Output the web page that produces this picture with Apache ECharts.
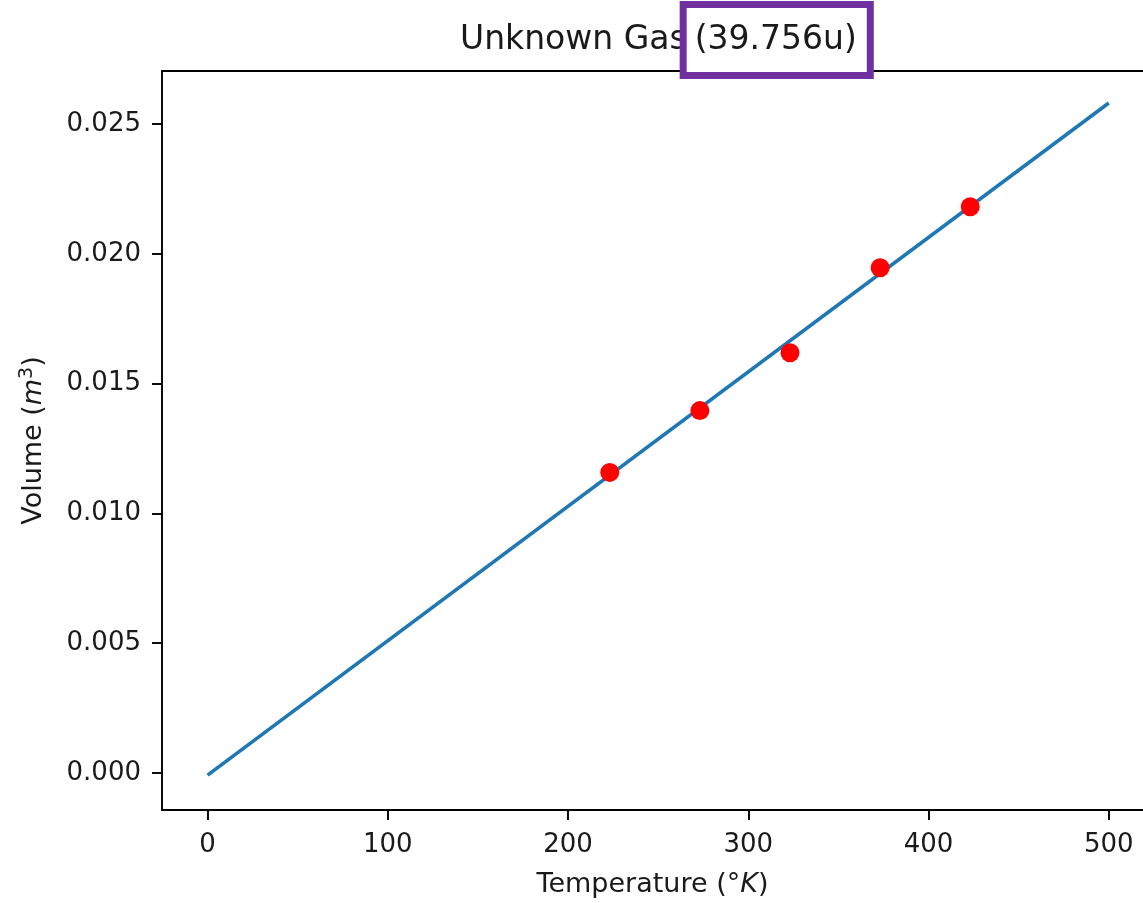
<!DOCTYPE html>
<html><head><meta charset="utf-8">
<script src="https://cdn.jsdelivr.net/npm/echarts@6/dist/echarts.min.js"></script>
<style>html,body{margin:0;padding:0;background:#fff}#c{width:1143px;height:903px}</style>
</head><body><div id="c"></div>
<script>
// Data
const temps = [223.15, 273.15, 323.15, 373.15, 423.15];
const volumes = [0.01158, 0.01396, 0.01619, 0.01946, 0.02181];
const fitX = [0, 500];
const fitY = [-0.00008, 0.02581];
const xTicks = [0, 100, 200, 300, 400, 500];
const yTicks = [0, 0.005, 0.010, 0.015, 0.020, 0.025];
const titleMain = 'Unknown Gas';
const titleBoxed = '(39.756u)';

const F = 'DejaVu Sans';
const C = '#1a1a1a';
const chart = echarts.init(document.getElementById('c'), null, {renderer: 'canvas'});
const axisLineStyle = {color: '#000', width: 1.9};
chart.setOption({
  animation: false,
  backgroundColor: '#fff',
  title: {
    text: '{a|' + titleMain + '}{b|' + titleBoxed + '}',
    left: 460, top: 20, padding: 0,
    textStyle: {
      fontFamily: F, fontSize: 33, fontWeight: 'normal', color: C,
      rich: {
        a: {fontFamily: F, fontSize: 33, fontWeight: 'normal', color: C, lineHeight: 40},
        b: {fontFamily: F, fontSize: 33, fontWeight: 'normal', color: C, lineHeight: 40,
            borderColor: '#7030a0', borderWidth: 7, backgroundColor: '#fff',
            padding: [16, 10, 15, 8]}
      }
    }
  },
  grid: {left: 162, top: 71, right: 0, bottom: 92, containLabel: false},
  xAxis: [{
    type: 'value', min: -25.3, max: 519,
    axisLine: {show: true, onZero: false, lineStyle: axisLineStyle},
    axisTick: {show: true, length: 10, lineStyle: axisLineStyle, customValues: xTicks},
    axisLabel: {fontFamily: F, fontSize: 26, color: C, margin: 22, customValues: xTicks},
    splitLine: {show: false},
    name: '{n|Temperature (°}{i|K}{n|)}',
    nameLocation: 'middle', nameGap: 61,
    nameTextStyle: {rich: {
      n: {fontFamily: F, fontSize: 27, color: C},
      i: {fontFamily: F, fontStyle: 'italic', fontSize: 27, color: C}
    }}
  }, {
    type: 'value', min: -25.3, max: 519, position: 'top',
    axisLine: {show: true, onZero: false, lineStyle: axisLineStyle},
    axisTick: {show: false}, axisLabel: {show: false}, splitLine: {show: false}
  }],
  yAxis: [{
    type: 'value', min: -0.001423, max: 0.02704,
    axisLine: {show: true, onZero: false, lineStyle: axisLineStyle},
    axisTick: {show: true, length: 10, lineStyle: axisLineStyle, customValues: yTicks},
    axisLabel: {fontFamily: F, fontSize: 26, color: C, margin: 21, customValues: yTicks,
      formatter: v => v.toFixed(3)},
    splitLine: {show: false},
    name: '{n|Volume (}{i|m}{s|3}{n|)}',
    nameLocation: 'middle', nameGap: 112, nameRotate: 90,
    nameTextStyle: {rich: {
      n: {fontFamily: F, fontSize: 27, color: C, lineHeight: 32},
      i: {fontFamily: F, fontStyle: 'italic', fontSize: 27, color: C, lineHeight: 32},
      s: {fontFamily: F, fontSize: 19, color: C, lineHeight: 19, verticalAlign: 'top'}
    }}
  }],
  series: [{
    type: 'line', data: fitX.map((x, i) => [x, fitY[i]]),
    showSymbol: false, symbol: 'none',
    lineStyle: {color: '#1f77b4', width: 3.6}, z: 2
  }, {
    type: 'scatter', data: temps.map((t, i) => [t, volumes[i]]),
    symbolSize: 19, itemStyle: {color: '#ff0000', opacity: 1}, z: 3
  }]
});
</script></body></html>
